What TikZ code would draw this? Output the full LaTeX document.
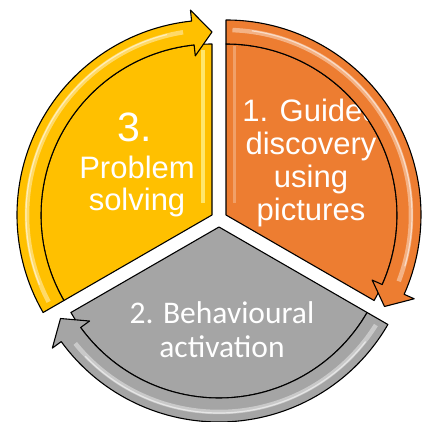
\documentclass[tikz,border=0pt]{standalone}
\usepackage{fontspec}
\setmainfont{Liberation Sans}
\newfontfamily\calibri{Carlito}
\definecolor{cycOrange}{HTML}{ED7D31}
\definecolor{cycGold}{HTML}{FFC000}
\definecolor{cycGrey}{HTML}{A5A5A5}
\definecolor{goldLight}{HTML}{FFEB78}

\begin{document}
\begin{tikzpicture}[x=1pt, y=1pt,
  part/.style={draw=black, line width=1.1pt, line join=round},
  gloss/.style={line width=4.5pt, opacity=0.75},
  shine/.style={line width=1.2pt, white, opacity=0.55},
  label/.style={text=white, align=center, inner sep=0pt}
]
  \useasboundingbox (0,0) rectangle (421,422);

  % pie pieces: end angle / centre / colour
  \foreach \a/\cx/\cy/\col in {-30/226/207/cycOrange, 210/219/195/cycGrey, 90/212/207/cycGold} {
    \begin{scope}[shift={(\cx,\cy)}]
      \filldraw[part, fill=\col] (0,0) -- ({\a+120}:171)
        arc[start angle=\a+120, end angle=\a, radius=171] -- cycle;
    \end{scope}
  }

  % light strips along the straight edges
  \draw[line width=4pt, goldLight, opacity=0.9] (203,219) -- (203,372);
  \draw[line width=3pt, cycOrange!55!white, opacity=0.6] (234,219) -- (234,376);

  \node[label, font=\fontsize{31}{33}\selectfont] (guided) at (311,259)
    {1. Guided\\discovery\\using\\pictures};
  \node[label, font=\calibri\fontsize{31.5}{34}\selectfont] (behave) at (222,92)
    {2. Behavioural\\activation};
  \node[label, anchor=base, font=\fontsize{41}{44}\selectfont] (three) at (135,280) {3.};
  \node[label, font=\fontsize{31}{32}\selectfont] (solving) at (137,236)
    {Problem\\solving};

  % curved arrows round the rim
  \foreach \a/\cx/\cy/\col in {-30/226/207/cycOrange, 210/219/195/cycGrey, 90/212/207/cycGold} {
    \begin{scope}[shift={(\cx,\cy)}]
      \filldraw[part, fill=\col] ({\a+120}:171) -- ({\a+120}:195)
        arc[start angle=\a+120, end angle=\a+6, radius=195]
        -- ({\a+6}:206) -- (\a:183) -- ({\a+6}:160) -- ({\a+6}:171)
        arc[start angle=\a+6, end angle=\a+120, radius=171] -- cycle;
      \draw[gloss, \col!45!white] ({\a+118}:185) arc[start angle=\a+118, end angle=\a+9, radius=185];
      \draw[shine] ({\a+112}:186) arc[start angle=\a+112, end angle=\a+14, radius=186];
    \end{scope}
  }
\end{tikzpicture}
\end{document}
